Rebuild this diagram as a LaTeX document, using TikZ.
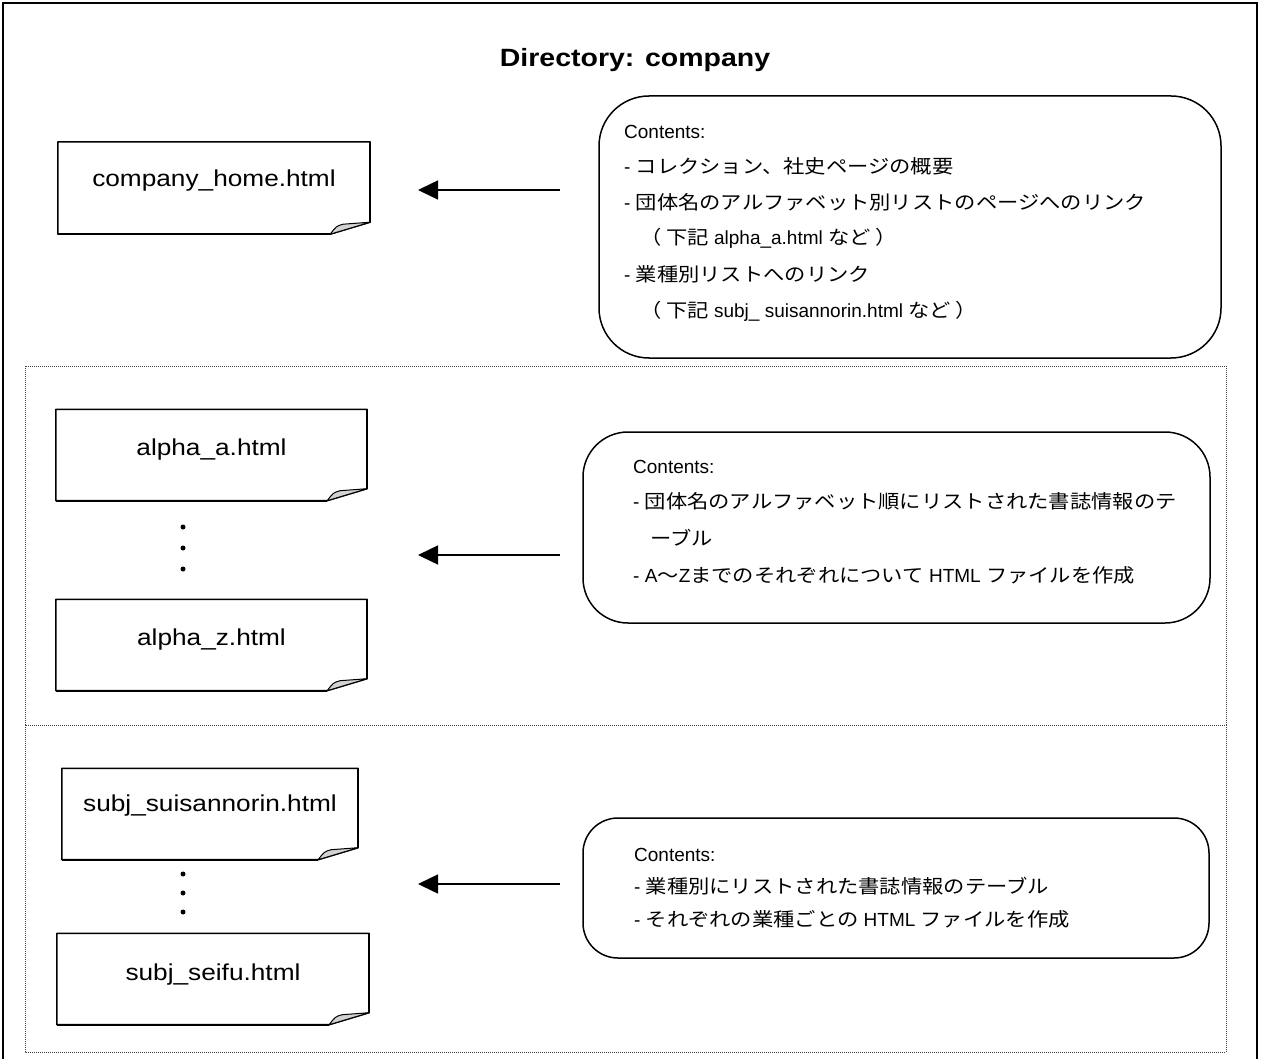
\documentclass[tikz,border=0pt]{standalone}
\usepackage{fontspec}
\setmainfont{Liberation Sans}
\newfontfamily\wide[FakeStretch=1.14]{Liberation Sans}
\newfontfamily\jp[FakeStretch=1.12]{Noto Sans CJK JP}
\usetikzlibrary{arrows.meta}
\newcommand\docshape[1]{%
  \draw[line width=1.5pt, line join=round] (#1.north west) -- (#1.north east) -- ([yshift=12pt]#1.south east) -- ([xshift=-40pt]#1.south east) -- (#1.south west) -- cycle;
  \draw[line width=2.2pt] ([xshift=-40pt]#1.south east) -- (#1.south west);
  \draw[line width=2.2pt] (#1.north east) -- ([yshift=12pt]#1.south east);
  \filldraw[fill=gray!35, line width=1pt, line join=round] ([xshift=-40pt]#1.south east) .. controls ([xshift=-34pt,yshift=8pt]#1.south east) .. ([xshift=-27pt,yshift=10pt]#1.south east) -- ([yshift=12pt]#1.south east) -- cycle;}
\begin{document}
\begin{tikzpicture}[x=1pt,y=-1pt,
  docbox/.style={draw=none, inner sep=0pt, minimum width=311pt, minimum height=91pt},
  doctext/.style={inner sep=0pt, font=\wide\fontsize{23}{23}\selectfont},
  rbox/.style={draw, line width=1.5pt, inner sep=0pt},
  cline/.style={anchor=west, inner sep=0pt, font=\fontsize{19}{19}\selectfont},
  arr/.style={line width=1.5pt, -{Triangle[length=20pt,width=19pt]}},
  sect/.style={draw=gray!50!black, line width=1pt, dash pattern=on 1pt off 1pt},
  dot/.style={circle, fill, inner sep=0pt, minimum size=5pt}]
\useasboundingbox (0,0) rectangle (1261,1059);
% outer frame
\draw[line width=1.5pt] (3,1062) -- (3,3) -- (1257,3) -- (1257,1062);
% sections
\draw[sect] (25,366) rectangle (1226,725);
\draw[sect] (25,725) rectangle (1226,1052);
% title
\node[inner sep=0pt, font=\wide\bfseries\fontsize{25}{25}\selectfont] (title) at (635,60) {Directory: company};

% documents
\node[docbox, minimum width=312pt, minimum height=92pt] (home) at (214,188) {};
\docshape{home}
\node[doctext] (homet) at (214,181) {company\_home.html};

\node[docbox] (aa) at (211.5,455) {};
\docshape{aa}
\node[doctext] (aat) at (211.5,450) {alpha\_a.html};

\node[docbox] (az) at (211.5,645) {};
\docshape{az}
\node[doctext] (azt) at (211.5,640) {alpha\_z.html};

\node[docbox, minimum width=296pt] (su) at (210,814) {};
\docshape{su}
\node[doctext] (sut) at (210,806) {subj\_suisannorin.html};

\node[docbox, minimum width=312pt] (se) at (213,979) {};
\docshape{se}
\node[doctext] (set) at (213,975) {subj\_seifu.html};

% dots
\node[dot] (d1) at (183,527) {};
\node[dot] (d2) at (183,548) {};
\node[dot] (d3) at (183,569) {};
\node[dot] (d4) at (183,874) {};
\node[dot] (d5) at (183,893) {};
\node[dot] (d6) at (183,912) {};

% arrows
\coordinate (a1s) at (560,190); \coordinate (a1e) at (418,190);
\coordinate (a2s) at (560,555); \coordinate (a2e) at (418,555);
\coordinate (a3s) at (560,884); \coordinate (a3e) at (418,884);
\draw[arr] (a1s) -- (a1e);
\draw[arr] (a2s) -- (a2e);
\draw[arr] (a3s) -- (a3e);

% rounded boxes
\node[rbox, rounded corners=50pt, minimum width=622pt, minimum height=262pt] (r1) at (910,227) {};
\node[rbox, rounded corners=45pt, minimum width=627pt, minimum height=191pt] (r2) at (896.5,527.5) {};
\node[rbox, rounded corners=35pt, minimum width=626pt, minimum height=140pt] (r3) at (896,888) {};

% box 1 text
\node[cline] (t11) at (624,132) {Contents:};
\node[cline] (t12) at (624,166) {- {\jp コレクション、社史ページの概要}};
\node[cline] (t13) at (624,202) {- {\jp 団体名のアルファベット別リストのページへのリンク}};
\node[cline] (t14) at (640,238) {{\jp （ 下記} alpha\_a.html {\jp など ）}};
\node[cline] (t15) at (624,274) {- {\jp 業種別リストへのリンク}};
\node[cline] (t16) at (640,311) {{\jp （ 下記} subj\_ suisannorin.html {\jp など ）}};

% box 2 text
\node[cline] (t21) at (633,467) {Contents:};
\node[cline] (t22) at (633,501) {- {\jp 団体名のアルファベット順にリストされた書誌情報のテ}};
\node[cline] (t23) at (650,538) {{\jp ーブル}};
\node[cline] (t24) at (633,575) {- A{\jp ～}Z{\jp までのそれぞれについて} HTML {\jp ファイルを作成}};

% box 3 text
\node[cline] (t31) at (634,855) {Contents:};
\node[cline] (t32) at (634,886) {- {\jp 業種別にリストされた書誌情報のテーブル}};
\node[cline] (t33) at (634,919) {- {\jp それぞれの業種ごとの} HTML {\jp ファイルを作成}};
\end{tikzpicture}
\end{document}
